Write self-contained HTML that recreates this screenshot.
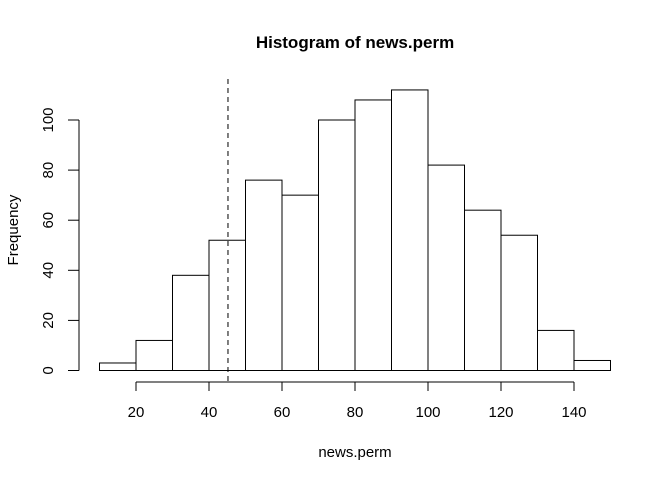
<!DOCTYPE html>
<html><head><meta charset="utf-8"><style>
body{margin:0;background:#fff}
svg{display:block;font-family:"Liberation Sans",Arial,sans-serif}
</style></head><body>
<svg id="chart" width="672" height="480" viewBox="0 0 672 480">
<text x="355" y="48" text-anchor="middle" font-size="17" font-weight="bold">Histogram of news.perm</text>
<text x="355" y="457" text-anchor="middle" font-size="15">news.perm</text>
<text transform="translate(18,230) rotate(-90)" text-anchor="middle" font-size="15">Frequency</text>
<g id="bars"></g><g id="axes"></g>
</svg>
<script>
const binStarts=[10,20,30,40,50,60,70,80,90,100,110,120,130,140];
const counts=[3,12,38,52,76,70,100,108,112,82,64,54,16,4];
const binWidth=10;
const xTicks=[20,40,60,80,100,120,140];
const yTicks=[0,20,40,60,80,100];
const refValue=45.2;
const NS="http://www.w3.org/2000/svg";
const xs=v=>136+(v-20)*3.65;
const ys=v=>370.5-v*2.505;
function mk(t,a,p){const e=document.createElementNS(NS,t);for(const k in a)e.setAttribute(k,a[k]);p.appendChild(e);return e;}
const bars=document.getElementById('bars'),axes=document.getElementById('axes');
binStarts.forEach((b,i)=>{
 const r=mk('rect',{x:xs(b),y:ys(counts[i]),width:xs(b+binWidth)-xs(b),height:ys(0)-ys(counts[i]),fill:'#fff',stroke:'#000','stroke-width':1},bars);
 
 
});
const xl=mk('line',{x1:xs(xTicks[0]),x2:xs(xTicks[xTicks.length-1]),y1:382,y2:382,stroke:'#000'},axes);


xTicks.forEach(t=>{
 mk('line',{x1:xs(t),x2:xs(t),y1:382,y2:391,stroke:'#000'},axes);
 const tx=mk('text',{x:xs(t),y:417,'text-anchor':'middle','font-size':15},axes);
 tx.textContent=t;
 
 
});
const yl=mk('line',{x1:79,x2:79,y1:ys(yTicks[0]),y2:ys(yTicks[yTicks.length-1]),stroke:'#000'},axes);


yTicks.forEach(t=>{
 mk('line',{x1:68,x2:79,y1:ys(t),y2:ys(t),stroke:'#000'},axes);
 const tx=mk('text',{transform:`translate(53,${ys(t)}) rotate(-90)`,'text-anchor':'middle','font-size':15},axes);
 tx.textContent=t;
 
 
});
const d=mk('line',{x1:xs(refValue),x2:xs(refValue),y1:79,y2:382,stroke:'#000','stroke-dasharray':'5,4'},axes);


</script>
</body></html>
